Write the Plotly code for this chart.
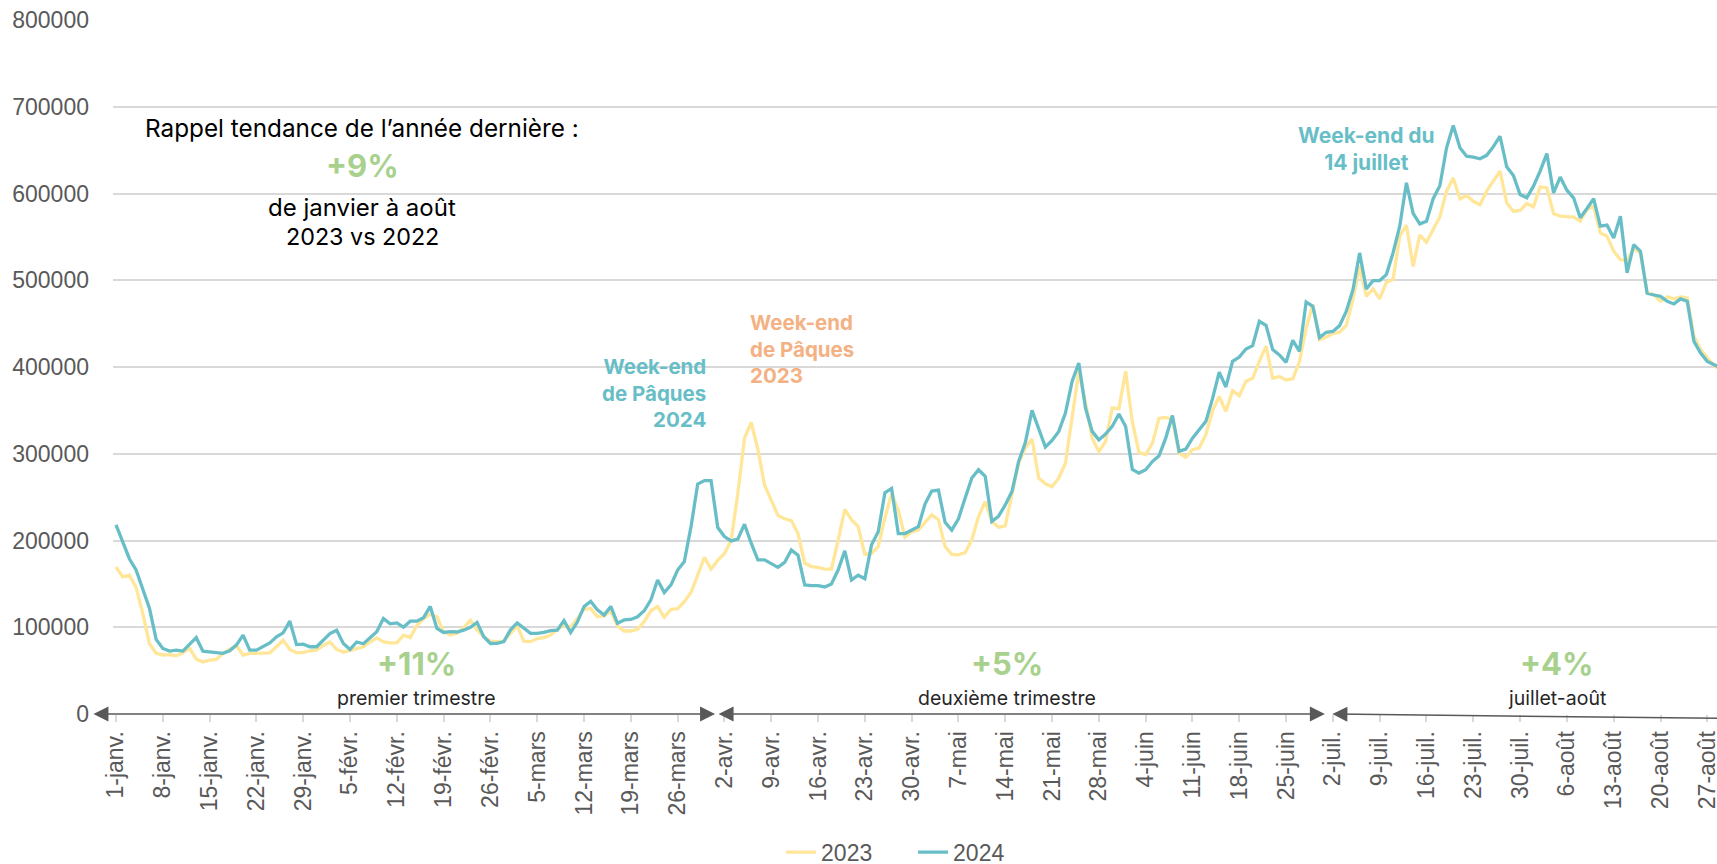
import pandas as pd
import plotly.graph_objects as go

# ---------------- data (values in thousands) ----------------
start_date = "2023-01-01"

visits_2023_k = [
    169.5, 158, 160, 146, 116, 81, 70, 68, 68.5, 67,
    70.5, 76, 63.3, 60, 62, 63, 70, 75, 79, 68,
    70, 70, 70, 70.5, 77.5, 85, 74.4, 70.5, 71, 72.9,
    73.6, 79, 83, 74.4, 71.3, 73.6, 75.5, 77.5, 83, 87.7,
    83, 82, 82, 90.9, 88, 102, 110, 115, 112, 95,
    91, 93, 99.5, 108, 97, 89, 84, 83.4, 84, 93,
    101.5, 84, 83.4, 86.9, 88, 91, 97.6, 102.6, 100, 110,
    120.7, 121.5, 112, 113, 119, 101.5, 95.7, 95.7, 97.6, 106.5,
    119, 123.8, 111.5, 120.7, 121.5, 129.5, 140, 160, 180.7, 167,
    177, 185, 200, 254, 318, 336, 305, 264, 247, 229,
    225, 223, 208, 174, 170, 169, 167, 167, 200, 236,
    224, 216, 184, 185, 193, 226, 254, 235, 204, 210,
    212, 220.8, 229.6, 224, 193, 184, 183.5, 186, 200.8, 227.7,
    245, 222, 215.4, 217, 254.6, 289, 306.5, 317, 272, 265.4,
    262, 272, 289, 343, 395, 358.5, 318, 302.7, 314, 352.7,
    352, 395, 337, 301.5, 299, 312, 341, 342, 339, 300.8,
    295.8, 304.6, 306.5, 322, 349.6, 366, 349, 372.7, 367, 383.5,
    387, 406.5, 424, 387, 389, 385, 386.5, 406, 445, 472,
    431.5, 434.6, 438.5, 440, 448, 477.7, 516, 481.5, 490, 478.5,
    497.7, 500.8, 550.8, 563.5, 516, 552, 543.8, 558.5, 573, 602.7,
    618, 593.8, 597.7, 591, 587, 602.7, 614, 625.8, 589, 579.6,
    580.4, 588.5, 584.6, 607.7, 606.5, 577, 573.8, 573, 572.7, 568,
    581.5, 585.4, 554.6, 550.8, 533.5, 523.8, 522, 536.5, 531.5, 485.4,
    483.5, 475.8, 480.8, 478.5, 480.8, 479.6, 435.4, 420, 410.4, 401.5,
    397,
]

visits_2024_k = [
    218, 198, 179, 166, 145, 122, 86, 75.6, 72.5, 73.6,
    72.5, 80.5, 88, 72.5, 71.7, 71, 70, 72.9, 79.4, 90.9,
    73.6, 73.6, 77.5, 82, 89, 93.6, 107, 80, 80.5, 77.5,
    77.5, 85, 92.8, 96.6, 81.3, 74.4, 83, 81, 88, 94.7,
    110, 104, 105, 100, 107, 107, 111, 124, 98.6, 94,
    95, 94.5, 96.6, 100, 105.6, 89, 81.3, 81.5, 83.4, 97,
    105, 98.8, 93, 93, 94, 96, 96.6, 107.6, 93.8, 106,
    123.8, 130, 120, 114, 124, 104.6, 108.4, 109, 112, 119,
    131.5, 154.5, 140, 148.8, 166, 175.7, 216, 265, 269, 269,
    215, 204.5, 199.5, 201.5, 218.8, 196.9, 177.6, 177.6, 173, 169,
    174.7, 189, 183, 148.8, 148, 148, 146.5, 150, 166, 188,
    154.5, 160, 156, 195, 210, 255, 260, 208, 208, 212,
    216, 242, 257, 258, 221, 212, 225, 249, 272, 281.5,
    274, 222, 228, 241, 256.5, 291, 313, 350, 329.6, 307.7,
    315.4, 325.8, 347, 383.5, 404.6, 352.7, 325.8, 316, 322.7, 331.5,
    345.8, 331.5, 282, 277.7, 281.5, 291, 297.7, 318, 344, 302.7,
    305.4, 318, 327.7, 337.3, 363.5, 394, 377, 406.5, 411.5, 420.8,
    424.6, 452.7, 448, 420, 414, 405.4, 430.8, 418, 475, 470,
    434, 440, 441, 447.7, 464, 489, 531.5, 490, 499.6, 499.6,
    506.5, 531.5, 562.3, 612.3, 577, 565, 568, 594, 609, 652.7,
    678.5, 652.7, 643, 642, 640, 644, 654, 666, 630.8, 620.8,
    598.8, 595, 608.5, 625.8, 646, 600.8, 619, 603.8, 595, 572,
    582.7, 594, 562.3, 563.5, 548.8, 573.8, 508.5, 541, 533.5, 485,
    483, 481.5, 475.8, 472.7, 478.5, 475.8, 429.6, 416, 406.5, 402.7,
    399,
]

tick_labels = [
    "1-janv.", "8-janv.", "15-janv.", "22-janv.", "29-janv.",
    "5-févr.", "12-févr.", "19-févr.", "26-févr.",
    "5-mars", "12-mars", "19-mars", "26-mars",
    "2-avr.", "9-avr.", "16-avr.", "23-avr.", "30-avr.",
    "7-mai", "14-mai", "21-mai", "28-mai",
    "4-juin", "11-juin", "18-juin", "25-juin",
    "2-juil.", "9-juil.", "16-juil.", "23-juil.", "30-juil.",
    "6-août", "13-août", "20-août", "27-août",
]

series_names = ["2023", "2024"]
period_growth = ["+11%", "+5%", "+4%"]
period_names = ["premier trimestre", "deuxième trimestre", "juillet-août"]

# ---------------- styling ----------------
YELLOW = "#FFE699"
TEAL = "#68BEC7"
GREEN = "#A9D18E"
ORANGE = "#F4B183"
GREY = "#595959"
GRID = "#D9D9D9"
TXT_FONT = "Inter"
TICK_FONT = "Liberation Sans"

base = pd.Timestamp(start_date)
dates = pd.date_range(start_date, periods=len(visits_2023_k), freq="D")


def day(d):
    return base + pd.Timedelta(days=d)


fig = go.Figure()
fig.add_trace(go.Scatter(
    x=dates, y=[v * 1000 for v in visits_2023_k], name=series_names[0],
    mode="lines", line=dict(color=YELLOW, width=3.3),
))
fig.add_trace(go.Scatter(
    x=dates, y=[v * 1000 for v in visits_2024_k], name=series_names[1],
    mode="lines", line=dict(color=TEAL, width=3.3),
))

annotations = []

# Quarter arrows (double-headed)
arrow_spans = [((-3.6, 0), (89.6, 0)), ((89.9, 0), (180.8, 0)), ((181.7, 0), (246, -5500))]
for (x0, y0), (x1, y1) in arrow_spans:
    annotations.append(dict(
        x=day(x1), y=y1, ax=day(x0), ay=y0, xref="x", yref="y", axref="x", ayref="y",
        text="", showarrow=True, arrowside="end+start",
        arrowhead=2, startarrowhead=2, arrowsize=2, startarrowsize=2,
        arrowwidth=1.5, arrowcolor=GREY, standoff=0, startstandoff=0,
    ))

# Period growth labels
period_centers = [45, 133.2, 215.5]
for cx, g, n in zip(period_centers, period_growth, period_names):
    annotations.append(dict(
        x=day(cx), y=58000, xref="x", yref="y", text=f"<b>{g}</b>", showarrow=False,
        font=dict(family=TXT_FONT, size=31, color=GREEN), xanchor="center", yanchor="middle",
    ))
    annotations.append(dict(
        x=day(cx), y=19000, xref="x", yref="y", text=n, showarrow=False,
        font=dict(family=TXT_FONT, size=19.5, color="#262626"), xanchor="center", yanchor="middle",
    ))

# Reminder block
rx = day(36.8)
annotations += [
    dict(x=rx, y=675000, xref="x", yref="y", text="Rappel tendance de l’année dernière :",
         showarrow=False, font=dict(family=TXT_FONT, size=24.3, color="#000000"),
         xanchor="center", yanchor="middle"),
    dict(x=rx, y=632000, xref="x", yref="y", text="<b>+9%</b>",
         showarrow=False, font=dict(family=TXT_FONT, size=31, color=GREEN),
         xanchor="center", yanchor="middle"),
    dict(x=rx, y=584000, xref="x", yref="y", text="de janvier à août",
         showarrow=False, font=dict(family=TXT_FONT, size=24, color="#000000"),
         xanchor="center", yanchor="middle"),
    dict(x=rx, y=551000, xref="x", yref="y", text="2023 vs 2022",
         showarrow=False, font=dict(family=TXT_FONT, size=23.3, color="#000000"),
         xanchor="center", yanchor="middle"),
]

# Event callouts
annotations += [
    dict(x=day(88.5), y=370000, xref="x", yref="y",
         text="<b>Week-end<br>de Pâques<br>2024</b>", showarrow=False, align="right",
         font=dict(family=TXT_FONT, size=20.5, color=TEAL), xanchor="right", yanchor="middle"),
    dict(x=day(94.5), y=421000, xref="x", yref="y",
         text="<b>Week-end<br>de Pâques<br>2023</b>", showarrow=False, align="left",
         font=dict(family=TXT_FONT, size=20.5, color=ORANGE), xanchor="left", yanchor="middle"),
    dict(x=day(187), y=651000, xref="x", yref="y",
         text="<b>Week-end du<br>14 juillet</b>", showarrow=False, align="center",
         font=dict(family=TXT_FONT, size=21, color=TEAL), xanchor="center", yanchor="middle"),
]

fig.update_layout(
    width=1717, height=864,
    margin=dict(l=113, r=0, t=20, b=150, autoexpand=False),
    plot_bgcolor="white", paper_bgcolor="white",
    font=dict(family=TICK_FONT, color=GREY),
    showlegend=True,
    legend=dict(
        orientation="h", x=0.4165, y=-0.199, xanchor="left", yanchor="middle",
        entrywidth=87, entrywidthmode="pixels",
        font=dict(family=TICK_FONT, size=23, color=GREY), bgcolor="rgba(0,0,0,0)",
    ),
    annotations=annotations,
    xaxis=dict(
        type="date", range=[day(-0.45), day(239.45)],
        tickmode="array", tickvals=list(dates[::7][:len(tick_labels)]), ticktext=tick_labels,
        tickangle=-90, ticks="outside", ticklen=7, tickwidth=1.5, tickcolor=GRID,
        showgrid=False, showline=False, zeroline=False, automargin=False,
        ticklabeloverflow="allow",
        tickfont=dict(family=TICK_FONT, size=23, color=GREY),
    ),
    yaxis=dict(
        range=[0, 800000], dtick=100000, tick0=0, tickformat="d",
        showgrid=True, gridcolor=GRID, gridwidth=1.5, zeroline=False, showline=False,
        ticks="", ticklabelstandoff=23, automargin=False,
        tickfont=dict(family=TICK_FONT, size=23, color=GREY),
    ),
)

fig.write_html(
    "out.html",
    config={"displayModeBar": False},
    post_script="document.body.style.margin='0';document.body.style.overflow='hidden';",
)
